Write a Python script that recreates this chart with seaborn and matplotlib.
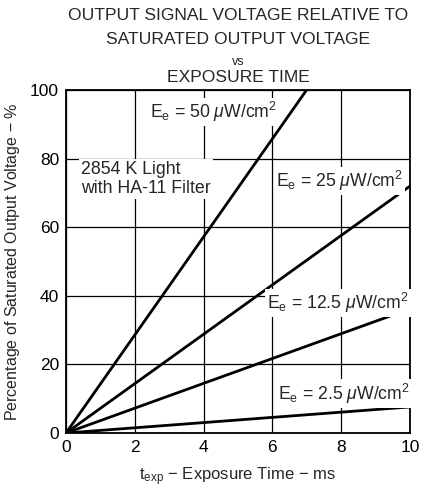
import numpy as np
import pandas as pd
import matplotlib
matplotlib.use("Agg")
import matplotlib.pyplot as plt
import seaborn as sns

# irradiance levels (uW/cm^2) and percent of saturated output at 0 and 10 ms
irradiance = [50, 25, 12.5, 2.5]
time_ms = [0, 10]
pct_at_0 = [0, 0, 0, 0]
pct_at_10 = [143, 72, 36.2, 7.6]

x_ticks = [0, 2, 4, 6, 8, 10]
y_ticks = [0, 20, 40, 60, 80, 100]

rows = []
for e, y0, y1 in zip(irradiance, pct_at_0, pct_at_10):
    rows.append({"Ee": str(e), "t": time_ms[0], "pct": y0})
    rows.append({"Ee": str(e), "t": time_ms[1], "pct": y1})
df = pd.DataFrame(rows)

sns.set_style("white")
plt.rcParams["font.family"] = ["Liberation Sans", "DejaVu Sans"]
plt.rcParams["mathtext.fontset"] = "custom"
plt.rcParams["mathtext.rm"] = "Liberation Sans"
plt.rcParams["mathtext.it"] = "Liberation Sans:italic"

fig = plt.figure(figsize=(4.24, 4.9), dpi=100)
ax = fig.add_axes([0.1557, 0.1163, 0.8113, 0.7000])

sns.lineplot(data=df, x="t", y="pct", hue="Ee", palette=["black"] * 4,
             linewidth=2.0, legend=False, ax=ax)

ax.set_xlim(0, 10)
ax.set_ylim(0, 100)
ax.set_xticks(x_ticks)
ax.set_yticks(y_ticks)
ax.tick_params(length=0, labelsize=12.5, pad=5, colors="black")
ax.grid(True, color="black", linewidth=0.9)
for s in ax.spines.values():
    s.set_color("black")
    s.set_linewidth(1.3)
ax.set_axisbelow(True)

ax.set_xlabel("")
ax.set_ylabel(r"Percentage of Saturated Output Voltage $-$ %", fontsize=11.5, labelpad=6)
fig.text(238 / 424, 1 - 477 / 490, r"t$_\mathrm{exp}$ $-$ Exposure Time $-$ ms",
         ha="center", va="center", fontsize=12)

box = dict(facecolor="white", edgecolor="none", pad=1.5)
labels = [
    (2.45, 93.5, r"E$_\mathrm{e}$ = 50 $\mu$W/cm$^\mathrm{2}$"),
    (6.1, 73.5, r"E$_\mathrm{e}$ = 25 $\mu$W/cm$^\mathrm{2}$"),
    (5.85, 38.0, r"E$_\mathrm{e}$ = 12.5 $\mu$W/cm$^\mathrm{2}$"),
    (6.15, 11.5, r"E$_\mathrm{e}$ = 2.5 $\mu$W/cm$^\mathrm{2}$"),
]
for x, y, t in labels:
    ax.text(x, y, t, fontsize=12.7, va="center", ha="left", bbox=box, zorder=3)
ax.text(0.45, 74, "2854 K Light\nwith HA-11 Filter", fontsize=12.8, va="center",
        ha="left", linespacing=1.15, bbox=box, zorder=3)

cx = 238 / 424
fig.text(cx, 1 - 16 / 490, "OUTPUT SIGNAL VOLTAGE RELATIVE TO", ha="center", va="center", fontsize=12.6)
fig.text(cx, 1 - 39 / 490, "SATURATED OUTPUT VOLTAGE", ha="center", va="center", fontsize=12.6)
fig.text(cx, 1 - 62 / 490, "vs", ha="center", va="center", fontsize=9)
fig.text(cx, 1 - 77 / 490, "EXPOSURE TIME", ha="center", va="center", fontsize=12.6)

fig.savefig("out.png", dpi=100)
